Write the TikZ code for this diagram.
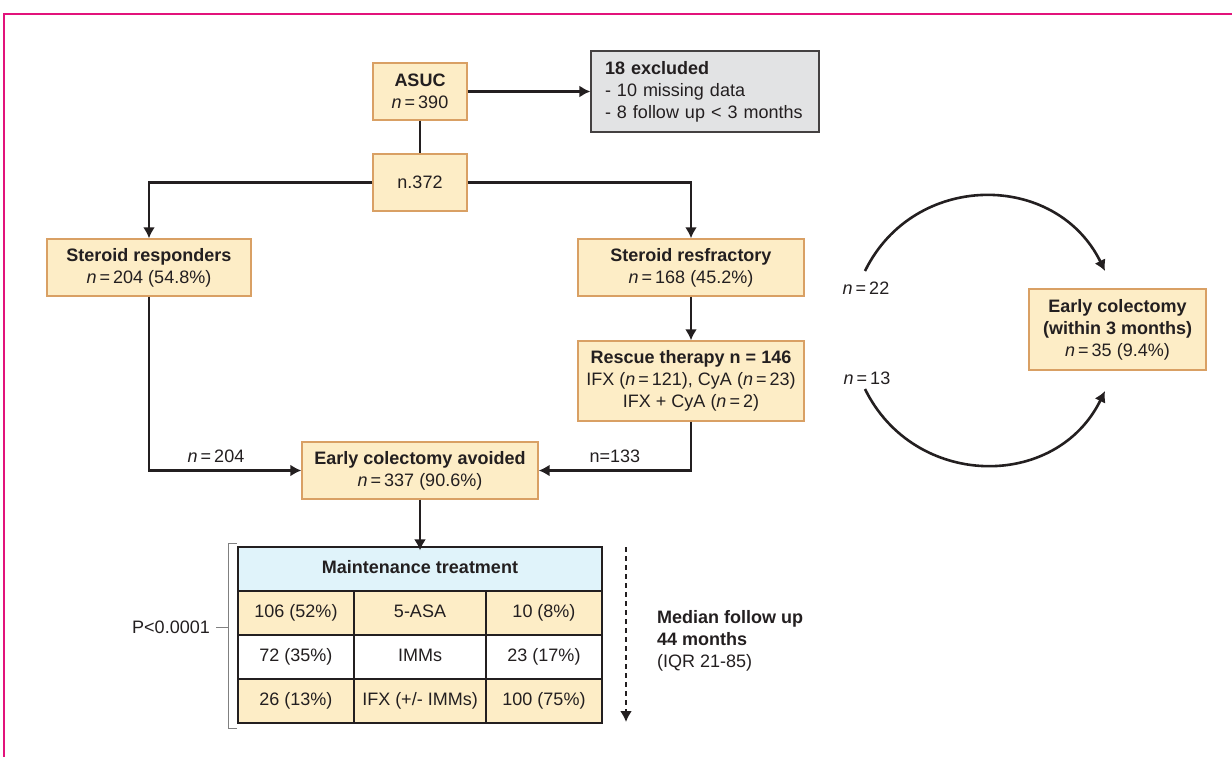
\documentclass[tikz,border=0pt]{standalone}
\usepackage{fontspec}
\setmainfont{Liberation Sans}
\usetikzlibrary{arrows.meta}
\definecolor{boxfill}{HTML}{FDEDC6}
\definecolor{boxline}{HTML}{D9A064}
\definecolor{exclfill}{HTML}{E2E3E4}
\definecolor{headfill}{HTML}{E0F3FA}
\definecolor{framecol}{HTML}{E2137B}
\definecolor{ink}{HTML}{231F20}
\newcommand{\nval}{\textit{n}\,=\,}
\begin{document}
\begin{tikzpicture}
  [x=1pt,y=-1pt,color=ink,font=\fontsize{18}{22}\selectfont,
   box/.style={draw=boxline,fill=boxfill,line width=1.4pt,align=center,inner sep=0pt},
   cell/.style={draw=ink,line width=1.2pt,minimum width=116,minimum height=44,inner sep=0pt,
                text height=13pt,text depth=4pt},
   link/.style={line width=2.6pt},
   >={Latex[length=11pt,width=12pt]}]
  \useasboundingbox (0,0) rectangle (1232,757);
  \draw[framecol,line width=2.2pt] (4,757) -- (4,14) -- (1232,14);
  % flow boxes
  \node[box,minimum width=94,minimum height=57] (asuc) at (420,91.5) {\textbf{ASUC}\\\nval390};
  \node[draw=ink!85,fill=exclfill,line width=1.2pt,minimum height=81,text width=200,
        inner xsep=14,align=left] (excl) at (705,91.5)
        {\textbf{18 excluded}\\- 10 missing data\\- 8 follow up < 3 months};
  \node[box,minimum width=94,minimum height=57] (n372) at (420,182.5) {n.372};
  \node[box,minimum width=204,minimum height=57] (resp) at (149,267.5)
        {\textbf{Steroid responders}\\\nval204 (54.8\%)};
  \node[box,minimum width=226,minimum height=57] (refr) at (691,267.5)
        {\textbf{Steroid resfractory}\\\nval168 (45.2\%)};
  \node[box,minimum width=226,minimum height=80] (resc) at (691,381)
        {\textbf{Rescue therapy n = 146}\\IFX (\nval121), CyA (\nval23)\\IFX + CyA (\nval2)};
  \node[box,minimum width=236,minimum height=57] (avoid) at (420,470.5)
        {\textbf{Early colectomy avoided}\\\nval337 (90.6\%)};
  \node[box,minimum width=177,minimum height=81] (early) at (1117.5,329.5)
        {\textbf{Early colectomy}\\\textbf{(within 3 months)}\\\nval35 (9.4\%)};
  % maintenance table
  \node[cell,fill=headfill,minimum width=364] (head) at (420,569) {\textbf{Maintenance treatment}};
  \node[cell,fill=boxfill] (a1) at (296,613) {106 (52\%)};
  \node[cell,fill=boxfill,minimum width=132] (b1) at (420,613) {5-ASA};
  \node[cell,fill=boxfill] (c1) at (544,613) {10 (8\%)};
  \node[cell,fill=white] (a2) at (296,657) {72 (35\%)};
  \node[cell,fill=white,minimum width=132] (b2) at (420,657) {IMMs};
  \node[cell,fill=white] (c2) at (544,657) {23 (17\%)};
  \node[cell,fill=boxfill] (a3) at (296,701) {26 (13\%)};
  \node[cell,fill=boxfill,minimum width=132] (b3) at (420,701) {IFX (+/- IMMs)};
  \node[cell,fill=boxfill] (c3) at (544,701) {100 (75\%)};
  % connectors
  \draw[link,->] (asuc) -- (excl);
  \draw[link] (asuc) -- (n372);
  \draw[link,->] (n372.west) -| (resp.north);
  \draw[link,->] (n372.east) -| (refr.north);
  \draw[link,->] (refr) -- (resc);
  \draw[link,->] (resp.south) |- (avoid.west) node[pos=0.72,above=3pt] (l204) {\nval204};
  \draw[link,->] (resc.south) |- (avoid.east) node[pos=0.75,above=3pt] (l133) {n=133};
  \draw[link,->] (avoid) -- ([yshift=-4]head.north);
  % to early colectomy
  \coordinate (upA) at (865,271);
  \coordinate (upB) at (1105,271);
  \coordinate (loA) at (865,389);
  \coordinate (loB) at (1105,391);
  \draw[link,->] (upA) .. controls (914,171) and (1056,171) .. (upB);
  \draw[link,->] (loA) .. controls (914,489) and (1056,491) .. (loB);
  \node (l22) at (866,288) {\nval22};
  \node (l13) at (867,378) {\nval13};
  % p value bracket
  \draw[gray,line width=1pt] (237,543) -- (228,543) -- (228,728) -- (237,728);
  \draw[gray,line width=1pt] (216,627) -- (228,627);
  \node[anchor=east,inner sep=0pt] (pval) at (210,627) {P<0.0001};
  % follow up
  \coordinate (fuA) at (626,547);
  \coordinate (fuB) at (626,722);
  \draw[line width=2pt,->,dash pattern=on 5pt off 4pt] (fuA) -- (fuB);
  \node[anchor=west,align=left,inner sep=0pt] (fu) at (657,641)
        {\textbf{Median follow up}\\\textbf{44 months}\\(IQR 21-85)};
\end{tikzpicture}
\end{document}
